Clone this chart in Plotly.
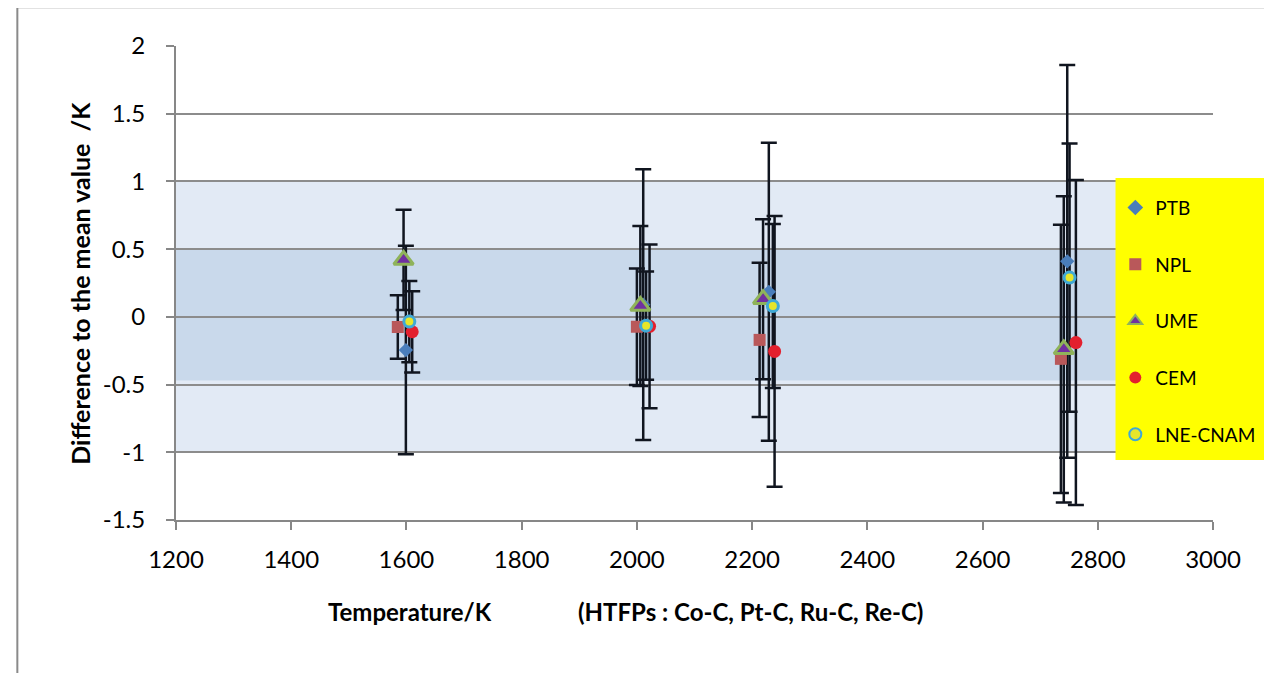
import plotly.graph_objects as go

# ---- data ----
SERIES = ["PTB", "NPL", "UME", "CEM", "LNE-CNAM"]

PTB_T = [1599, 2011, 2229, 2747]
PTB_D = [-0.245, 0.09, 0.185, 0.41]
PTB_U = [0.77, 1.00, 1.10, 1.45]

NPL_T = [1585, 2000, 2213, 2736]
NPL_D = [-0.075, -0.073, -0.17, -0.31]
NPL_U = [0.235, 0.43, 0.57, 0.99]

UME_T = [1595, 2006, 2219, 2741]
UME_D = [0.42, 0.08, 0.13, -0.24]
UME_U = [0.37, 0.59, 0.59, 1.13]

CEM_T = [1610, 2022, 2239, 2762]
CEM_D = [-0.11, -0.07, -0.255, -0.19]
CEM_U = [0.30, 0.605, 1.00, 1.20]

LNE_T = [1605, 2016, 2236, 2751]
LNE_D = [-0.035, -0.065, 0.08, 0.29]
LNE_U = [0.30, 0.40, 0.605, 0.99]

BAND_OUTER = [-1.0, 1.0]
BAND_INNER = [-0.47, 0.5]

X_TICKS = [1200, 1400, 1600, 1800, 2000, 2200, 2400, 2600, 2800, 3000]
Y_TICKS = [-1.5, -1, -0.5, 0, 0.5, 1, 1.5, 2]
Y_TICK_TEXT = ["-1.5", "-1", "-0.5", "0", "0.5", "1", "1.5", "2"]

FONT = "Lato"

data = [
    (PTB_T, PTB_D, PTB_U, dict(symbol="diamond", size=11, color="#4a7ebb")),
    (NPL_T, NPL_D, NPL_U, dict(symbol="square", size=12, color="#b9585a")),
    (UME_T, UME_D, UME_U, dict(symbol="triangle-up", size=17, color="#7030a0",
                               line=dict(color="#8fb35a", width=3))),
    (CEM_T, CEM_D, CEM_U, dict(symbol="circle", size=13, color="#e3202e")),
    (LNE_T, LNE_D, LNE_U, dict(symbol="circle", size=11, color="#e6e62a",
                               line=dict(color="#3fa9d6", width=3))),
]

fig = go.Figure()

# error bars first (so markers end up on top)
for name, (t, d, u, m) in zip(SERIES, data):
    fig.add_trace(go.Scatter(
        x=t, y=d, mode="markers", showlegend=False, hoverinfo="skip",
        marker=dict(size=1, opacity=0),
        error_y=dict(type="data", array=u, visible=True, color="#10151f",
                     thickness=2.5, width=8),
    ))

for i, (name, (t, d, u, m)) in enumerate(zip(SERIES, data)):
    fig.add_trace(go.Scatter(
        x=t, y=d, mode="markers", name=name, marker=m,
        legendgroup="g%d" % i,
    ))

shapes = [
    dict(type="rect", xref="x", yref="y", x0=X_TICKS[0], x1=X_TICKS[-1],
         y0=BAND_OUTER[0], y1=BAND_OUTER[1], fillcolor="#e2eaf5",
         line=dict(width=0), layer="below"),
    dict(type="rect", xref="x", yref="y", x0=X_TICKS[0], x1=X_TICKS[-1],
         y0=BAND_INNER[0], y1=BAND_INNER[1], fillcolor="#c9d9eb",
         line=dict(width=0), layer="below"),
    # yellow legend box
    dict(type="rect", xref="paper", yref="paper", x0=0.906, x1=1.2,
         y0=0.1266, y1=0.7215, fillcolor="#ffff00", line=dict(width=0),
         layer="above"),
    # outer chart border
    dict(type="rect", xref="paper", yref="paper", x0=-0.153, x1=1.2,
         y0=-0.5, y1=1.082, fillcolor="rgba(0,0,0,0)",
         line=dict(color="#8a8a8a", width=2), layer="below"),
]

fig.update_layout(
    width=1264, height=665,
    margin=dict(l=168, r=56, t=38, b=153),
    paper_bgcolor="white", plot_bgcolor="rgba(0,0,0,0)",
    font=dict(family=FONT, size=24, color="black"),
    shapes=shapes,
    showlegend=True,
    legend=dict(x=0.9058, y=0.699, xanchor="left", yanchor="top",
                bgcolor="rgba(0,0,0,0)", font=dict(size=19),
                tracegroupgap=29, itemsizing="constant"),
    annotations=[
        dict(text="<b>Temperature/K</b>", xref="paper", yref="paper",
             x=0.226, y=-0.194, xanchor="center", yanchor="middle",
             showarrow=False, font=dict(size=24)),
        dict(text="<b>(HTFPs : Co-C, Pt-C, Ru-C, Re-C)</b>", xref="paper",
             yref="paper", x=0.5543, y=-0.194, xanchor="center",
             yanchor="middle", showarrow=False, font=dict(size=24)),
        dict(text="<b>Difference to the mean value  /K</b>", xref="paper",
             yref="paper", x=-0.0923, y=0.499, xanchor="center",
             yanchor="middle", showarrow=False, textangle=-90,
             font=dict(size=25)),
    ],
)

fig.update_xaxes(range=[X_TICKS[0], X_TICKS[-1]], tickvals=X_TICKS,
                 showgrid=False, zeroline=False, showline=True,
                 linecolor="#878787", linewidth=2, ticks="outside",
                 ticklen=8, tickwidth=2, tickcolor="#878787",
                 ticklabelstandoff=9)
fig.update_yaxes(range=[Y_TICKS[0], Y_TICKS[-1]], tickvals=Y_TICKS,
                 ticktext=Y_TICK_TEXT,
                 showgrid=True, gridcolor="#8c8c8c", gridwidth=2,
                 zeroline=False, showline=True,
                 linecolor="#878787", linewidth=2, ticks="outside",
                 ticklen=8, tickwidth=2, tickcolor="#878787",
                 ticklabelstandoff=16)

fig.write_html("out.html")
